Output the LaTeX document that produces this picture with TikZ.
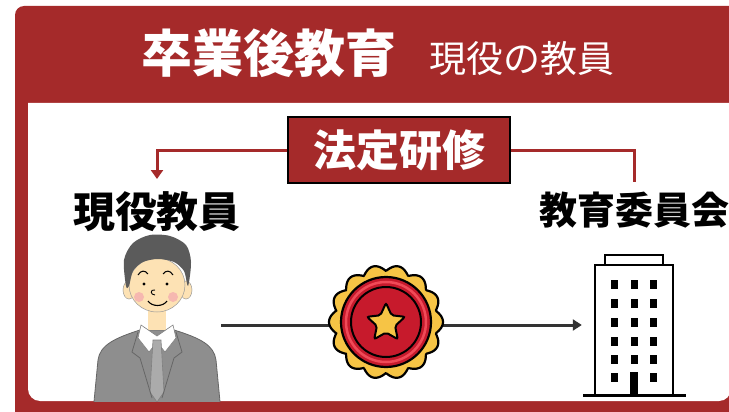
\documentclass[tikz,border=0pt]{standalone}
\usepackage{fontspec}
\newfontfamily\jp{Noto Sans CJK JP}
\usetikzlibrary{shapes.geometric, arrows.meta}
\definecolor{frame}{HTML}{A52A2A}
\definecolor{medalgold}{HTML}{F6C445}
\definecolor{medalred}{HTML}{C71A2C}
\definecolor{medalpink}{HTML}{F04A58}
\definecolor{hair}{HTML}{5B5B5B}
\definecolor{skin}{HTML}{FDE2B4}
\definecolor{cheek}{HTML}{F6B8B0}
\definecolor{suit}{HTML}{8E8E8E}
\definecolor{tie}{HTML}{ABABAB}

\tikzset{
  head/.style={text=white, font=\jp\bfseries\fontsize{51}{54}\selectfont},
  subhead/.style={text=white, font=\jp\fontsize{37}{40}\selectfont},
  lbl/.style={text=black, font=\jp\bfseries\fontsize{#1}{#1}\selectfont},
  link/.style={draw=frame, line width=3},
  flow/.style={draw=black!80, line width=3},
  art/.style={minimum width=#1, minimum height=145, inner sep=0}
}

\begin{document}
\begin{tikzpicture}[x=1pt, y=-1pt]
\clip (0,0) rectangle (729,412);
\fill[frame, rounded corners=9] (15,6) rectangle (760,430);
\fill[white] (28,250) [rounded corners=12] -- (28,401) -- (731,401) -- (731,250) [sharp corners] -- (731,103) -- (28,103) -- cycle;

\node[head] (title) at (269,53) {卒業後教育};
\node[subhead] (subtitle) at (522,59) {現役の教員};

\node[draw=black, line width=1.5, fill=frame, text=white, font=\jp\bfseries\fontsize{43}{46}\selectfont,
      minimum width=222, minimum height=66, inner sep=0] (law) at (399,150) {法定研修};
\node[lbl=42] (teacherlbl) at (157,212) {現役教員};
\node[lbl=38] (boardlbl) at (634,210) {教育委員会};

\node[art=128] (teacher) at (157,325) {};
\node[art=104] (bldg) at (634,325) {};
\node[circle, minimum size=112, inner sep=0] (medal) at (386,322) {};

\coordinate (tipL) at (157,179);
\coordinate (endR) at (634,182);
\draw[link, -{Triangle[length=9, width=12]}] (law.west) -| (tipL);
\draw[link] (law.east) -| (endR);
\draw[flow, -{Triangle[length=9, width=11]}] (teacher.east) -- (bldg.west);

% medal
\filldraw[fill=medalgold, draw=black, line width=2.2]
  plot[domain=0:360, samples=240, smooth] ({386+(51+6*abs(cos(7*\x)))*cos(\x)}, {322+(51+6*abs(cos(7*\x)))*sin(\x)}) -- cycle;
\filldraw[fill=medalred, draw=black, line width=2.2] (386,322) circle[radius=45];
\draw[medalpink, line width=2.5] (386,322) circle[radius=40];
\draw[black, line width=2] (386,322) circle[radius=35];
\node[star, star points=5, star point ratio=2.1, fill=medalgold, draw=black, line width=2,
      minimum size=40, inner sep=0, rounded corners=2] (medalstar) at (386,323) {};

% teacher
\begin{scope}
\clip (80,220) rectangle (235,401);
\filldraw[fill=suit, draw=black!60, line width=0.8]
  (93,412) -- (98,360) .. controls (100,345) and (115,338) .. (140,330) -- (174,330)
  .. controls (200,338) and (214,345) .. (216,360) -- (221,412) -- cycle;
\fill[skin] (148,300) rectangle (166,330);
\filldraw[fill=white, draw=black!50, line width=0.6] (141,325) -- (157,336) -- (173,325) -- (176,338) -- (165,352) -- (157,342) -- (149,352) -- (138,338) -- cycle;
\filldraw[fill=tie, draw=black!50, line width=0.6] (153,340) -- (161,340) -- (164,392) -- (157,402) -- (150,392) -- cycle;
\draw[black!60, line width=0.8] (138,332) -- (132,352) -- (140,358) -- (152,398);
\draw[black!60, line width=0.8] (176,332) -- (182,352) -- (174,358) -- (162,398);
\end{scope}
\filldraw[fill=skin, draw=black!40, line width=0.5] (129,290) ellipse[x radius=6, y radius=9];
\filldraw[fill=skin, draw=black!40, line width=0.5] (186,290) ellipse[x radius=6, y radius=9];
\filldraw[fill=skin, draw=black!40, line width=0.5] (157,285) ellipse[x radius=28, y radius=27];
\fill[hair] plot[smooth cycle] coordinates {(126,286) (124,260) (133,243) (150,235) (170,236) (186,245) (191,262) (188,286) (184,271) (174,262) (158,259) (143,262) (133,271) (129,286)};
\fill[cheek] (139,297) circle[radius=5];
\fill[cheek] (173,297) circle[radius=5];
\draw[black, line width=1] (138,275) .. controls (141,270) and (145,270) .. (148,274);
\draw[black, line width=1] (163,274) .. controls (166,270) and (170,270) .. (173,275);
\fill[black] (144,284) circle[radius=1.6];
\fill[black] (167,284) circle[radius=1.6];
\draw[black, line width=0.9] (155,290) .. controls (150,289) and (150,295) .. (155,295);
\draw[black, line width=1.1] (148,301) .. controls (152,307) and (163,307) .. (167,301);

% building
\draw[black, line width=2.5] (605,265) rectangle (663,255);
\draw[black, line width=2.5] (595,395) rectangle (673,265);
\foreach \wx in {614,634,653}
  \foreach \wy in {284,303,322,341,359,377}
    \fill[black] (\wx-3.5,\wy-4.5) rectangle (\wx+3.5,\wy+4.5);
\fill[white] (630,371) rectangle (638,384);
\fill[black] (630,372) rectangle (638,395);
\draw[black, line width=3] (583,395) -- (686,395);
\end{tikzpicture}
\end{document}
